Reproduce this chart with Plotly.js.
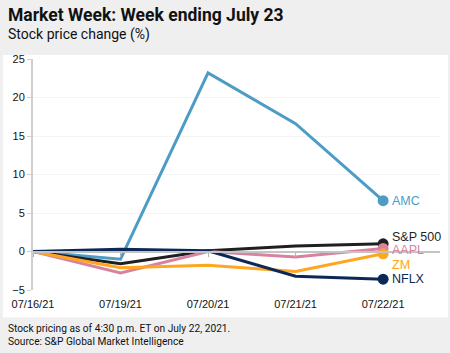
<!DOCTYPE html>
<html><head><meta charset="utf-8">
<script src="https://cdn.plot.ly/plotly-3.0.1.min.js"></script>
<style>html,body{margin:0;padding:0;background:#efefef;}#c{width:450px;height:353px;}</style>
</head><body><div id="c"></div>
<script>
const dates = ['07/16/21','07/19/21','07/20/21','07/21/21','07/22/21'];
const seriesNames = ['AMC','S&P 500','AAPL','ZM','NFLX'];
const amc = [0, -1.0, 23.2, 16.6, 6.6];
const sp500 = [0, -1.6, 0.1, 0.7, 1.0];
const aapl = [0, -2.8, 0.0, -0.7, 0.4];
const zm = [0, -2.1, -1.8, -2.6, -0.3];
const nflx = [0, 0.3, 0.1, -3.2, -3.6];
const colors = ['#4d9cc6','#1f1f1f','#d9829f','#ffa620','#0c2857'];
const labelShift = [0, 7, -2, -11, 0];
const all = [amc, sp500, aapl, zm, nflx];
const xIdx = dates.map((d,i)=>i);

const traces = [];
traces.push({x:[0], y:[0], xaxis:'x2', yaxis:'y', mode:'markers', marker:{opacity:0}, hoverinfo:'skip', showlegend:false});
all.forEach((vals,k)=>{
  traces.push({x:xIdx, y:vals, type:'scatter', mode:'lines', line:{color:colors[k], width:3}, hoverinfo:'skip', showlegend:false});
});
all.forEach((vals,k)=>{
  traces.push({x:[xIdx[xIdx.length-1]], y:[vals[vals.length-1]], type:'scatter', mode:'markers', marker:{color:colors[k], size:11}, showlegend:false, hoverinfo:'skip'});
});

const annotations = all.map((vals,k)=>({
  x: xIdx[xIdx.length-1], y: vals[vals.length-1], xref:'x', yref:'y',
  text: seriesNames[k], showarrow:false, xanchor:'left', xshift:8, yshift:labelShift[k], borderpad:0,
  font:{family:'Liberation Sans, Arial, sans-serif', size:12.5, color:colors[k]}
}));
annotations.push(
  {x:0, y:1, xref:'paper', yref:'paper', xanchor:'left', yanchor:'top', showarrow:false,
   text:'<b>Market Week: Week ending July 23</b>', font:{family:'Roboto, Liberation Sans, sans-serif', size:17.5, color:'#111'}, xshift:-27, yshift:56},
  {x:0, y:1, xref:'paper', yref:'paper', xanchor:'left', yanchor:'top', showarrow:false,
   text:'Stock price change (%)', font:{family:'Roboto, Liberation Sans, sans-serif', size:14, color:'#111'}, xshift:-27, yshift:35},
  {x:0, y:0, xref:'paper', yref:'paper', xanchor:'left', yanchor:'top', showarrow:false, align:'left',
   text:'Stock pricing as of 4:30 p.m. ET on July 22, 2021.<br>Source: S&P Global Market Intelligence', font:{family:'Roboto, Liberation Sans, sans-serif', size:10.2, color:'#111'}, xshift:-27, yshift:-31}
);

const layout = {
  width:450, height:353,
  margin:{l:33, r:10, t:59, b:63},
  paper_bgcolor:'#efefef', plot_bgcolor:'#ffffff',
  showlegend:false,
  xaxis:{range:[0,4.65], tickvals:xIdx, ticktext:dates, showgrid:false, zeroline:false, showline:false,
         ticks:'outside', ticklen:4, tickcolor:'rgba(0,0,0,0)', tickfont:{family:'Liberation Sans, Arial, sans-serif', size:11, color:'#111'}},
  xaxis2:{overlaying:'x', matches:'x', anchor:'free', position:1/6, range:[0,4.65], tickvals:xIdx, showticklabels:false,
          showline:true, linecolor:'#c4c4c4', linewidth:2, ticks:'outside', ticklen:4, tickcolor:'#b4b4b4', showgrid:false, zeroline:false},
  yaxis:{range:[-5,25], tickvals:[-5,0,5,10,15,20,25], showgrid:true, gridcolor:'#f4f4f4', zeroline:false,
         showline:true, linecolor:'#cfcfcf', linewidth:2, ticks:'outside', ticklen:4, tickcolor:'#cfcfcf',
         tickfont:{family:'Liberation Sans, Arial, sans-serif', size:11, color:'#111'}},
  shapes:[{type:'rect', xref:'paper', yref:'paper', x0:-0.074, x1:1.02, y0:-0.118, y1:1.017, fillcolor:'#ffffff', line:{width:0}, layer:'below'}],
  annotations:annotations
};
Plotly.newPlot('c', traces, layout, {staticPlot:true});
</script></body></html>
